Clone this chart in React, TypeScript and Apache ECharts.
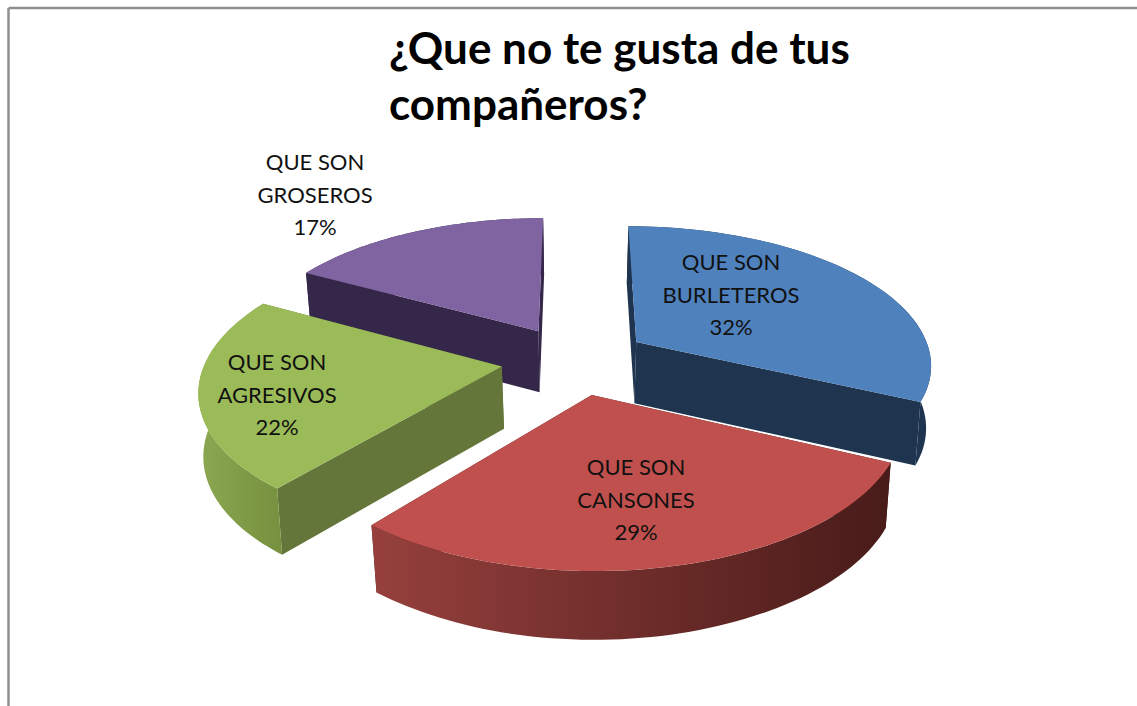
import React, { useEffect, useRef } from "react";
import * as echarts from "echarts";

const titleText = "¿Que no te gusta de tus\ncompañeros?";
const categories = ["QUE SON\nBURLETEROS", "QUE SON\nCANSONES", "QUE SON\nAGRESIVOS", "QUE SON\nGROSEROS"];
const values = [32, 29, 22, 17];

const topColors = ["#4F81BD", "#C0504D", "#9BBB59", "#8064A2"];
const edgeColors = ["#1F344F", "#4E1D1B", "#64763A", "#35274A"];
const arcFrom = ["#1F344F", "#96403D", "#8BA851", "#35274A"];
const arcTo = ["#1F344F", "#481B19", "#76903F", "#35274A"];
const drawRank = [1, 3, 2, 0];
const labelAt = [[731, 294], [636, 499], [277, 394], [315, 194]];

const CX = 575, CY = 360, RX = 296, RY = 138, PERSP = 0.15, EXPLODE = 0.25, DEPTH = 62, INSET = 5;

function scaleAt(Y: number) {
  return 1 / (1 - PERSP * Y);
}
function project(X: number, Y: number) {
  const s = scaleAt(Y);
  return [CX + X * RX * s, CY + Y * RY * s];
}
function drop(p: number[]) {
  const Y = p[1] - CY;
  const s = 1 / (1 - (PERSP * Y) / (RY + PERSP * Y));
  const dx = p[0] - CX;
  const inset = Math.min(INSET, Math.abs(dx) * 0.03) * Math.sign(dx);
  return [p[0] - inset, p[1] + DEPTH * Math.sqrt(s)];
}

const total = values.reduce((a, b) => a + b, 0);

function renderItem(params: any, api: any) {
  const i = params.dataIndex;
  const v = api.value(0);
  let before = 0;
  for (let k = 0; k < i; k++) before += values[k];
  const t0 = (before / total) * Math.PI * 2;
  const t1 = ((before + v) / total) * Math.PI * 2;
  const mid = (t0 + t1) / 2;
  const ox = EXPLODE * Math.sin(mid);
  const oy = -EXPLODE * Math.cos(mid);
  const apex = project(ox, oy);
  const arc: number[][] = [];
  const steps = 64;
  for (let s = 0; s <= steps; s++) {
    const t = t0 + ((t1 - t0) * s) / steps;
    arc.push(project(ox + Math.sin(t), oy - Math.cos(t)));
  }
  const rank = drawRank[i] * 10;
  const first = arc[0];
  const last = arc[arc.length - 1];
  const wall = (a: number[], b: number[]) => [a, b, drop(b), drop(a)];
  const arcWall = arc.concat(arc.slice().reverse().map(drop));
  const xs = arcWall.map((p) => p[0]);
  return {
    type: "group",
    children: [
      { type: "polygon", z2: rank, shape: { points: wall(apex, first) }, style: { fill: edgeColors[i] } },
      { type: "polygon", z2: rank, shape: { points: wall(apex, last) }, style: { fill: edgeColors[i] } },
      {
        type: "polygon",
        z2: rank + 1,
        shape: { points: arcWall },
        style: {
          fill: {
            type: "linear",
            x: Math.min(...xs),
            y: 0,
            x2: Math.max(...xs),
            y2: 0,
            global: true,
            colorStops: [
              { offset: 0, color: arcFrom[i] },
              { offset: 1, color: arcTo[i] },
            ],
          },
        },
      },
      { type: "polygon", z2: rank + 2, shape: { points: [apex, ...arc] }, style: { fill: topColors[i] } },
      {
        type: "text",
        z2: 100,
        x: labelAt[i][0],
        y: labelAt[i][1],
        style: {
          text: `${categories[i]}\n${v}%`,
          fill: "#111111",
          font: "22px Lato",
          lineHeight: 32.5,
          align: "center",
          verticalAlign: "middle",
        },
      },
    ],
  };
}

export default function App() {
  const ref = useRef<HTMLDivElement>(null);
  useEffect(() => {
    document.body.style.margin = "0";
    const chart = echarts.init(ref.current!, null, { renderer: "svg" });
    chart.setOption({
      animation: false,
      backgroundColor: "#ffffff",
      title: {
        text: titleText,
        left: 384,
        top: 14,
        textStyle: { fontFamily: "Lato", fontWeight: "bold", fontSize: 44, lineHeight: 56, color: "#000000" },
      },
      graphic: [
        { type: "line", shape: { x1: 8.5, y1: 8, x2: 1137, y2: 8 }, style: { stroke: "#8f8f8f", lineWidth: 2.5 } },
        { type: "line", shape: { x1: 8.5, y1: 8, x2: 8.5, y2: 706 }, style: { stroke: "#8f8f8f", lineWidth: 2.5 } },
      ],
      series: [
        {
          type: "custom",
          coordinateSystem: "none",
          renderItem,
          data: categories.map((name, k) => ({ name, value: [values[k]] })),
        },
      ],
    });
    return () => chart.dispose();
  }, []);
  return <div ref={ref} style={{ width: 1137, height: 706 }} />;
}
